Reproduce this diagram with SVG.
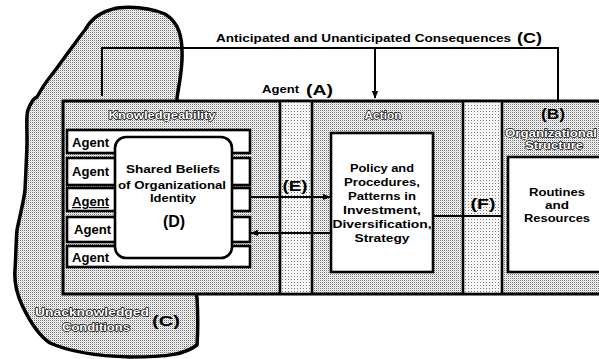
<svg xmlns="http://www.w3.org/2000/svg" width="599" height="359" viewBox="0 0 599 359">
<defs>
<pattern id="dense" width="2" height="2" patternUnits="userSpaceOnUse">
<rect width="2" height="2" fill="#ffffff"/>
<rect x="0" y="0" width="1" height="1" fill="#707070"/>
<rect x="1" y="1" width="1" height="1" fill="#d0d0d0"/>
</pattern>
<pattern id="light" width="3" height="3" patternUnits="userSpaceOnUse">
<rect width="3" height="3" fill="#ffffff"/>
<rect x="0" y="0" width="1" height="1" fill="#777"/>
<rect x="1.5" y="1.5" width="1" height="1" fill="#ccc"/>
</pattern>
<marker id="ah" viewBox="0 0 10 10" refX="9" refY="5" markerWidth="4" markerHeight="4" orient="auto">
<path d="M0,1 L10,5 L0,9 Z" fill="#000"/>
</marker>
</defs>
<style>
text{font-family:"Liberation Sans",Arial,sans-serif;font-weight:bold;fill:#000}
.c{text-anchor:middle}
.out{fill:#fff;stroke:#000;stroke-width:1.3;paint-order:stroke;stroke-linejoin:round}
.box{fill:#fff;stroke:#000;stroke-width:2.6}
.ln{fill:none;stroke:#000;stroke-width:2}
.div{stroke:#000;stroke-width:2.6}
</style>
<rect width="599" height="359" fill="#fff"/>

<g id="unacknowledged-conditions">
<path d="M85,30 C92,18 100,12 117,8 C135,6 150,8 165,14 C178,22 183,35 182,60 C181,78 178,90 177,98 L180,200 L197,298 C198,315 198,330 197,345 C185,354 170,357 130,357 C95,356 70,352 50,343 C38,335 30,322 22,305 C16,292 14,282 15,270 C16,255 16,240 17,230 C20,215 24,200 25,190 C26,170 27,150 27,140 C27,125 26,115 28,110 C31,102 34,98 37,97 C42,88 46,82 50,77 C58,67 64,58 70,50 C76,42 80,36 85,30 Z" fill="url(#dense)" stroke="#000" stroke-width="3.5" stroke-linejoin="round"/>
<text class="c out" x="92" y="316" font-size="11" textLength="114" lengthAdjust="spacingAndGlyphs">Unacknowledged</text>
<text class="c out" x="96" y="331" font-size="11" textLength="68" lengthAdjust="spacingAndGlyphs">Conditions</text>
<text x="152" y="326" font-size="15" textLength="28" lengthAdjust="spacingAndGlyphs">(C)</text>
</g>

<g id="structure-frame">
<rect x="63" y="101" width="545" height="193" fill="url(#dense)" stroke="#000" stroke-width="3"/>
<rect x="281" y="102.5" width="31" height="190" fill="url(#light)"/>
<rect x="464" y="102.5" width="38" height="190" fill="url(#light)"/>
<line class="div" x1="280" y1="101" x2="280" y2="294"/>
<line class="div" x1="312" y1="101" x2="312" y2="294"/>
<line class="div" x1="463" y1="101" x2="463" y2="294"/>
<line class="div" x1="502" y1="101" x2="502" y2="294"/>
</g>

<g id="knowledgeability">
<text class="c out" x="162" y="119" font-size="11" textLength="107" lengthAdjust="spacingAndGlyphs">Knowledgeability</text>
<rect class="box" x="67" y="130" width="183" height="23"/>
<rect class="box" x="67" y="158" width="183" height="27"/>
<rect class="box" x="67" y="188" width="183" height="23"/>
<rect class="box" x="67" y="217" width="183" height="25"/>
<rect class="box" x="67" y="246" width="183" height="21"/>
<text x="72" y="147" font-size="12" textLength="37" lengthAdjust="spacingAndGlyphs">Agent</text>
<text x="72" y="176" font-size="12" textLength="37" lengthAdjust="spacingAndGlyphs">Agent</text>
<text x="72" y="206" font-size="12" textLength="37" lengthAdjust="spacingAndGlyphs" text-decoration="underline">Agent</text>
<text x="74" y="234" font-size="12" textLength="37" lengthAdjust="spacingAndGlyphs">Agent</text>
<text x="72" y="262" font-size="12" textLength="37" lengthAdjust="spacingAndGlyphs">Agent</text>
</g>

<g id="shared-beliefs">
<rect x="115" y="137" width="117" height="121" rx="11" fill="#fff" stroke="#000" stroke-width="2.6"/>
<text class="c" x="173" y="173" font-size="11" textLength="94" lengthAdjust="spacingAndGlyphs">Shared Beliefs</text>
<text class="c" x="172" y="189" font-size="11" textLength="108" lengthAdjust="spacingAndGlyphs">of Organizational</text>
<text class="c" x="173" y="202" font-size="11" textLength="46" lengthAdjust="spacingAndGlyphs">Identity</text>
<text class="c" x="174" y="227" font-size="16">(D)</text>
</g>

<g id="agent-a">
<text x="262" y="93" font-size="11" textLength="37" lengthAdjust="spacingAndGlyphs">Agent</text>
<text x="306" y="95" font-size="15" textLength="27" lengthAdjust="spacingAndGlyphs">(A)</text>
</g>

<g id="action">
<text class="c out" x="383" y="119" font-size="11" textLength="37" lengthAdjust="spacingAndGlyphs">Action</text>
<rect class="box" x="331" y="133" width="102" height="139"/>
<text class="c" x="382" y="172" font-size="11" textLength="64" lengthAdjust="spacingAndGlyphs">Policy and</text>
<text class="c" x="382" y="186" font-size="11" textLength="76" lengthAdjust="spacingAndGlyphs">Procedures,</text>
<text class="c" x="382" y="200" font-size="11" textLength="68" lengthAdjust="spacingAndGlyphs">Patterns in</text>
<text class="c" x="382" y="214" font-size="11" textLength="78" lengthAdjust="spacingAndGlyphs">Investment,</text>
<text class="c" x="382" y="228" font-size="11" textLength="99" lengthAdjust="spacingAndGlyphs">Diversification,</text>
<text class="c" x="382" y="242" font-size="11" textLength="55" lengthAdjust="spacingAndGlyphs">Strategy</text>
</g>

<g id="organizational-structure">
<text class="c" x="553" y="119" font-size="15" textLength="24" lengthAdjust="spacingAndGlyphs">(B)</text>
<text class="c out" x="551" y="137" font-size="11" textLength="92" lengthAdjust="spacingAndGlyphs">Organizational</text>
<text class="c out" x="554" y="149" font-size="11" textLength="58" lengthAdjust="spacingAndGlyphs">Structure</text>
<rect class="box" x="508" y="157" width="102" height="115"/>
<text class="c" x="557" y="196" font-size="11" textLength="56" lengthAdjust="spacingAndGlyphs">Routines</text>
<text class="c" x="557" y="209" font-size="11" textLength="24" lengthAdjust="spacingAndGlyphs">and</text>
<text class="c" x="557" y="222" font-size="11" textLength="66" lengthAdjust="spacingAndGlyphs">Resources</text>
</g>

<g id="connectors">
<polyline class="ln" points="102,96 102,48 558,48 558,101"/>
<line class="ln" x1="375" y1="48" x2="375" y2="98" marker-end="url(#ah)"/>
<line class="ln" x1="250" y1="197" x2="330" y2="197" marker-end="url(#ah)"/>
<line class="ln" x1="331" y1="233" x2="251" y2="233" marker-end="url(#ah)"/>
<line class="ln" x1="433" y1="216" x2="502" y2="216"/>
<text x="216" y="42" font-size="11" textLength="295" lengthAdjust="spacingAndGlyphs">Anticipated and Unanticipated Consequences</text>
<text x="517" y="43" font-size="15" textLength="25" lengthAdjust="spacingAndGlyphs">(C)</text>
<text class="c" x="295" y="191" font-size="15" textLength="25" lengthAdjust="spacingAndGlyphs">(E)</text>
<text class="c" x="483" y="209" font-size="15" textLength="25" lengthAdjust="spacingAndGlyphs">(F)</text>
</g>
</svg>
